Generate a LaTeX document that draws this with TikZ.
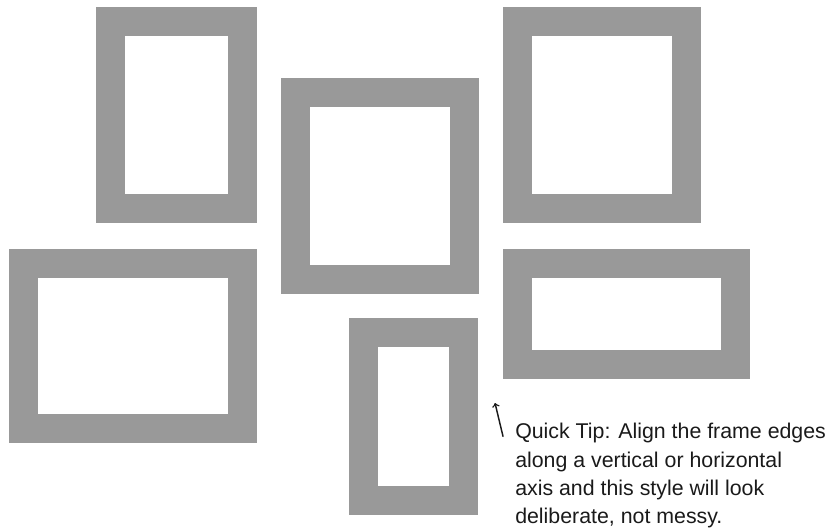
\documentclass[tikz,border=0pt]{standalone}
\usepackage{fontspec}
\setmainfont{Liberation Sans}
\usetikzlibrary{positioning}
\definecolor{framegray}{HTML}{999999}
\definecolor{tipink}{HTML}{1A1A1A}

\begin{document}
\begin{tikzpicture}[
    x=0.75pt, y=-0.75pt,
    frame/.style={rectangle, draw=framegray, line width=21.75pt, inner sep=0pt},
    tip/.style={font=\fontsize{16}{21.25}\selectfont, align=left, inner sep=0pt, text=tipink},
]
    \useasboundingbox (0,0) rectangle (828,531);

    % Frames (centre x / centre y / width / height of the stroke's middle)
    \foreach \n/\x/\y/\w/\h in {1/176.5/115/132/187, 2/133/346/219/165, 3/380/186/169/187,
                                4/602/115/169/187, 5/626.5/314/218/101, 6/413.5/416.5/100/168} {
        \node[frame, minimum width=\w*0.75pt, minimum height=\h*0.75pt] (frame\n) at (\x,\y) {};
    }

    % Tip
    \node[tip, anchor=north west] (tiptext) at (515,423)
        {Quick Tip: Align the frame edges\\along a vertical or horizontal\\axis and this style will look\\deliberate, not messy.};
    \coordinate (arrowtop) at (495,403);
    \draw[->, line width=1.1pt, tipink, line cap=round] ([xshift=-9pt, yshift=-10pt]tiptext.north west) -- (arrowtop);
\end{tikzpicture}
\end{document}
